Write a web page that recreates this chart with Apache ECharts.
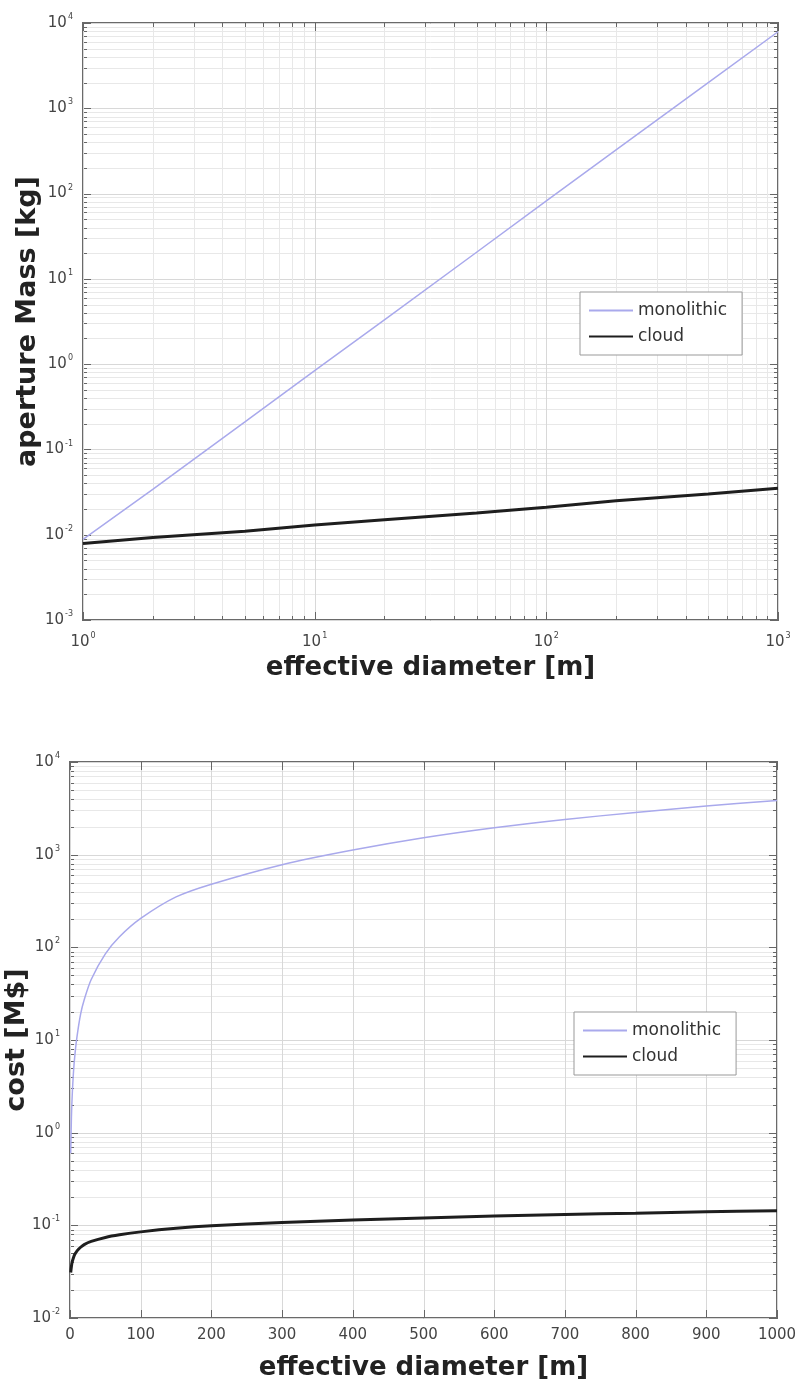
<!DOCTYPE html>
<html>
<head>
<meta charset="utf-8">
<title>aperture mass and cost vs effective diameter</title>
<script src="https://cdn.jsdelivr.net/npm/echarts@6/dist/echarts.min.js"></script>
<style>
  html, body { margin: 0; padding: 0; background: #fff; }
  #chart { width: 799px; height: 1393px; }
</style>
</head>
<body>
<div id="chart"></div>
<script>
// ---- top panel: aperture mass [kg] vs effective diameter [m] (log-log) ----
const massDiameter = [1, 2, 5, 10, 20, 50, 100, 200, 500, 1000];
const massMonolithic = [0.0088, 0.034, 0.21, 0.84, 3.3, 20.5, 82, 325, 2000, 7900];
const massCloud = [0.0079, 0.0093, 0.011, 0.013, 0.015, 0.018, 0.021, 0.025, 0.030, 0.035];

// ---- bottom panel: cost [M$] vs effective diameter [m] (lin-log) ----
const costDiameter = [1, 2, 3, 5, 7, 10, 15, 20, 30, 50, 70, 100, 150, 200, 300, 400, 500, 600, 700, 800, 900, 1000];
const costMonolithic = [0.6, 1.45, 2.4, 4.6, 7, 11, 19, 27, 45, 85, 130, 205, 350, 480, 780, 1120, 1520, 1950, 2400, 2850, 3350, 3850];
const costCloud = [0.031, 0.036, 0.040, 0.045, 0.049, 0.053, 0.058, 0.062, 0.067, 0.074, 0.079, 0.085, 0.093, 0.099, 0.107, 0.114, 0.120, 0.126, 0.131, 0.135, 0.140, 0.144];

// axis ranges and tick labels
const massDecadesY = [-3, -2, -1, 0, 1, 2, 3, 4];
const massDecadesX = [0, 1, 2, 3];
const costDecadesY = [-2, -1, 0, 1, 2, 3, 4];
const costTicksX = [0, 100, 200, 300, 400, 500, 600, 700, 800, 900, 1000];

const seriesNames = ['monolithic', 'cloud'];
const FONT = 'DejaVu Sans';

// tick positions: decades plus 2..9 within each decade
function logTicks(decades) {
  const out = [];
  for (let i = 0; i < decades.length; i++) {
    const base = Math.pow(10, decades[i]);
    out.push({ v: base, major: true });
    if (i < decades.length - 1) {
      for (let k = 2; k <= 9; k++) out.push({ v: k * base, major: false });
    }
  }
  return out;
}

function powLabel(v) {
  const e = Math.round(Math.log10(v));
  return '{b|10}{e|' + e + '}';
}
const powRich = {
  b: { fontSize: 15, color: '#444', fontFamily: FONT },
  e: { fontSize: 8, color: '#444', fontFamily: FONT, padding: [0, 0, 12, 1] }
};

// grid lines + inward ticks on all four sides, positioned through the axis scales
function yGridSeries(idx, xRef, ticks) {
  return {
    type: 'custom', xAxisIndex: idx, yAxisIndex: idx, silent: true, z: 1,
    data: ticks.map(t => [xRef, t.v, t.major ? 1 : 0]),
    renderItem: function (params, api) {
      const cs = params.coordSys;
      const py = Math.round(api.coord([api.value(0), api.value(1)])[1]) + 0.5;
      const major = api.value(2) === 1;
      const len = major ? 8 : 4;
      return {
        type: 'group',
        children: [
          { type: 'line', shape: { x1: cs.x, y1: py, x2: cs.x + cs.width, y2: py },
            style: { stroke: major ? '#d8d8d8' : '#e8e8e8', lineWidth: 1 } },
          { type: 'line', shape: { x1: cs.x, y1: py, x2: cs.x + len, y2: py },
            style: { stroke: '#666', lineWidth: 1 } },
          { type: 'line', shape: { x1: cs.x + cs.width - len, y1: py, x2: cs.x + cs.width, y2: py },
            style: { stroke: '#666', lineWidth: 1 } }
        ]
      };
    }
  };
}
function xGridSeries(idx, yRef, ticks) {
  return {
    type: 'custom', xAxisIndex: idx, yAxisIndex: idx, silent: true, z: 1,
    data: ticks.map(t => [t.v, yRef, t.major ? 1 : 0]),
    renderItem: function (params, api) {
      const cs = params.coordSys;
      const px = Math.round(api.coord([api.value(0), api.value(1)])[0]) + 0.5;
      const major = api.value(2) === 1;
      const len = major ? 8 : 4;
      return {
        type: 'group',
        children: [
          { type: 'line', shape: { x1: px, y1: cs.y, x2: px, y2: cs.y + cs.height },
            style: { stroke: major ? '#d8d8d8' : '#e8e8e8', lineWidth: 1 } },
          { type: 'line', shape: { x1: px, y1: cs.y + cs.height, x2: px, y2: cs.y + cs.height - len },
            style: { stroke: '#666', lineWidth: 1 } },
          { type: 'line', shape: { x1: px, y1: cs.y, x2: px, y2: cs.y + len },
            style: { stroke: '#666', lineWidth: 1 } }
        ]
      };
    }
  };
}

const pair = (xs, ys) => xs.map((x, i) => [x, ys[i]]);

const axisLineStyle = { show: true, lineStyle: { color: '#6a6a6a', width: 2 } };
const xTitleStyle = { fontFamily: FONT, fontWeight: 'bold', fontSize: 26, color: '#222' };
const yTitleStyle = { fontFamily: FONT, fontWeight: 'bold', fontSize: 27, color: '#222' };

function legendAt(left, top) {
  return {
    data: seriesNames, orient: 'vertical', left: left, top: top,
    backgroundColor: '#fff', borderColor: '#999', borderWidth: 1, borderRadius: 0,
    padding: [10, 15, 10, 8], itemGap: 9, itemWidth: 44, itemHeight: 12,
    itemStyle: { opacity: 0 },
    textStyle: { fontFamily: FONT, fontSize: 17, color: '#333' },
    selectedMode: false
  };
}

const option = {
  backgroundColor: '#fff',
  animation: false,
  grid: [
    { left: 83, top: 23, width: 695, height: 597, show: true, borderColor: '#6a6a6a', borderWidth: 2,
      outerBoundsMode: 'none', containLabel: false },
    { left: 70, top: 762, width: 707, height: 556, show: true, borderColor: '#6a6a6a', borderWidth: 2,
      outerBoundsMode: 'none', containLabel: false }
  ],
  xAxis: [
    {
      gridIndex: 0, type: 'log', logBase: 10,
      min: Math.pow(10, massDecadesX[0]), max: Math.pow(10, massDecadesX[massDecadesX.length - 1]),
      splitNumber: massDecadesX.length - 1,
      axisLine: axisLineStyle, axisTick: { show: false }, splitLine: { show: false },
      axisLabel: { formatter: powLabel, rich: powRich, margin: 12 },
      name: 'effective diameter [m]', nameLocation: 'middle', nameGap: 35, nameTextStyle: xTitleStyle
    },
    {
      gridIndex: 1, type: 'value',
      min: costTicksX[0], max: costTicksX[costTicksX.length - 1], interval: 100,
      axisLine: axisLineStyle, axisTick: { show: false }, splitLine: { show: false },
      axisLabel: { color: '#444', fontSize: 15, fontFamily: FONT, margin: 10, formatter: v => String(v) },
      name: 'effective diameter [m]', nameLocation: 'middle', nameGap: 37, nameTextStyle: xTitleStyle
    }
  ],
  yAxis: [
    {
      gridIndex: 0, type: 'log', logBase: 10,
      min: Math.pow(10, massDecadesY[0]), max: Math.pow(10, massDecadesY[massDecadesY.length - 1]),
      splitNumber: massDecadesY.length - 1,
      axisLine: axisLineStyle, axisTick: { show: false }, splitLine: { show: false },
      axisLabel: { formatter: powLabel, rich: powRich, margin: 10 },
      name: 'aperture Mass [kg]', nameLocation: 'middle', nameGap: 42, nameRotate: 90,
      nameMoveOverlap: false, nameTextStyle: yTitleStyle
    },
    {
      gridIndex: 1, type: 'log', logBase: 10,
      min: Math.pow(10, costDecadesY[0]), max: Math.pow(10, costDecadesY[costDecadesY.length - 1]),
      splitNumber: costDecadesY.length - 1,
      axisLine: axisLineStyle, axisTick: { show: false }, splitLine: { show: false },
      axisLabel: { formatter: powLabel, rich: powRich, margin: 10 },
      name: 'cost [M$]', nameLocation: 'middle', nameGap: 40, nameRotate: 90,
      nameMoveOverlap: false, nameTextStyle: yTitleStyle
    }
  ],
  legend: [legendAt(580, 292), legendAt(574, 1012)],
  series: [
    yGridSeries(0, 1, logTicks(massDecadesY)),
    xGridSeries(0, 1, logTicks(massDecadesX)),
    yGridSeries(1, 0, logTicks(costDecadesY)),
    xGridSeries(1, 1, costTicksX.map(v => ({ v: v, major: true }))),
    {
      name: 'monolithic', type: 'line', xAxisIndex: 0, yAxisIndex: 0, z: 3,
      data: pair(massDiameter, massMonolithic), symbol: 'none',
      lineStyle: { color: '#a9a9ec', width: 1.5 }, itemStyle: { color: '#a9a9ec' }
    },
    {
      name: 'cloud', type: 'line', xAxisIndex: 0, yAxisIndex: 0, z: 3,
      data: pair(massDiameter, massCloud), symbol: 'none',
      lineStyle: { color: '#1e1e1e', width: 3 }, itemStyle: { color: '#1e1e1e' }
    },
    {
      name: 'monolithic', type: 'line', xAxisIndex: 1, yAxisIndex: 1, z: 3,
      data: pair(costDiameter, costMonolithic), symbol: 'none', smooth: 0.3,
      lineStyle: { color: '#a9a9ec', width: 1.5 }, itemStyle: { color: '#a9a9ec' }
    },
    {
      name: 'cloud', type: 'line', xAxisIndex: 1, yAxisIndex: 1, z: 3,
      data: pair(costDiameter, costCloud), symbol: 'none', smooth: 0.3,
      lineStyle: { color: '#1e1e1e', width: 3 }, itemStyle: { color: '#1e1e1e' }
    }
  ]
};

const chart = echarts.init(document.getElementById('chart'), null, { renderer: 'canvas' });
chart.setOption(option);
</script>
</body>
</html>
